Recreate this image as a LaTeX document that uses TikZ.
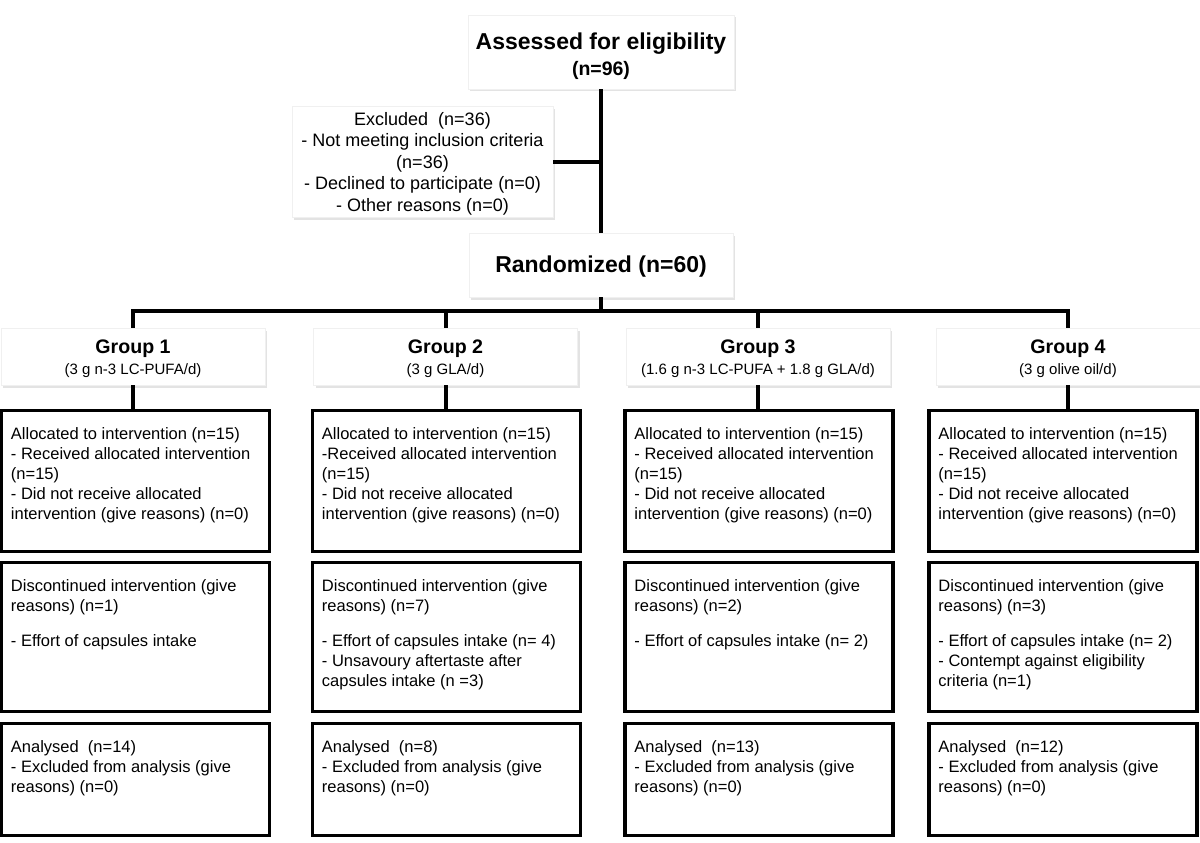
\documentclass[tikz,border=0pt]{standalone}
\usepackage{fontspec}
\setmainfont{Liberation Sans}
\usetikzlibrary{positioning,shadows}

\begin{document}
\begin{tikzpicture}[
    x=1pt, y=-1pt,
    head_box/.style={rectangle, fill=white, draw=black!6, line width=0.6pt, align=center, inner sep=0pt,
        drop shadow={shadow xshift=2pt, shadow yshift=-2.5pt, fill=black!22}},
    group_box/.style={head_box, minimum width=264pt, minimum height=57pt, font=\fontsize{15}{21}\selectfont},
    arm_box/.style={rectangle, draw=black, line width=3.5pt, fill=white, minimum width=268pt, inner sep=0pt},
    alloc_box/.style={arm_box, minimum height=141pt},
    disc_box/.style={arm_box, minimum height=149pt},
    anal_box/.style={arm_box, minimum height=112pt},
    arm_text/.style={anchor=north west, align=left, inner sep=0pt, xshift=11pt, yshift=-18.5pt,
        font=\fontsize{16.5}{20}\selectfont},
    link/.style={line width=4pt}
]
\useasboundingbox (0,0) rectangle (1200,843);

% --- TOP ---
\node[head_box, minimum width=266pt, minimum height=74pt, font=\fontsize{19.5}{26}\bfseries] (assess) at (601,52)
    {\rule{0pt}{26pt}{\fontsize{23}{26}\selectfont Assessed for eligibility}\\(n=96)};
\node[head_box, minimum width=261pt, minimum height=111pt, font=\fontsize{18}{21.5}\selectfont] (excl) at (422.5,161.5)
    {\rule{0pt}{17pt}Excluded~ (n=36)\\- Not meeting inclusion criteria\\(n=36)\\- Declined to participate (n=0)\\- Other reasons (n=0)};
\node[head_box, minimum width=264pt, minimum height=64pt, font=\fontsize{23}{26}\bfseries] (rand) at (601,265)
    {\rule{0pt}{20pt}Randomized (n=60)};

% --- GROUPS ---
\node[group_box] (grp1) at (133,356.5) {\rule{0pt}{19pt}{\fontsize{19.6}{21}\bfseries Group 1}\\(3 g n-3 LC-PUFA/d)};
\node[group_box] (grp2) at (445.5,356.5) {\rule{0pt}{19pt}{\fontsize{19.6}{21}\bfseries Group 2}\\(3 g GLA/d)};
\node[group_box] (grp3) at (758,356.5) {\rule{0pt}{19pt}{\fontsize{19.6}{21}\bfseries Group 3}\\(1.6 g n-3 LC-PUFA + 1.8 g GLA/d)};
\node[group_box] (grp4) at (1068,356.5) {\rule{0pt}{19pt}{\fontsize{19.6}{21}\bfseries Group 4}\\(3 g olive oil/d)};

% --- ALLOCATION ---
\node[alloc_box, label={[arm_text]north west:{Allocated to intervention (n=15)\\- Received allocated intervention\\(n=15)\\- Did not receive allocated\\intervention (give reasons) (n=0)}}] (alloc1) at (135.5,481) {};
\node[alloc_box, label={[arm_text]north west:{Allocated to intervention (n=15)\\-Received allocated intervention\\(n=15)\\- Did not receive allocated\\intervention (give reasons) (n=0)}}] (alloc2) at (446.5,481) {};
\node[alloc_box, label={[arm_text]north west:{Allocated to intervention (n=15)\\- Received allocated intervention\\(n=15)\\- Did not receive allocated\\intervention (give reasons) (n=0)}}] (alloc3) at (759,481) {};
\node[alloc_box, label={[arm_text]north west:{Allocated to intervention (n=15)\\- Received allocated intervention\\(n=15)\\- Did not receive allocated\\intervention (give reasons) (n=0)}}] (alloc4) at (1063,481) {};

% --- FOLLOW-UP ---
\node[disc_box, label={[arm_text]north west:{Discontinued intervention (give\\reasons) (n=1)\\[15pt]- Effort of capsules intake}}] (disc1) at (135.5,637) {};
\node[disc_box, label={[arm_text]north west:{Discontinued intervention (give\\reasons) (n=7)\\[15pt]- Effort of capsules intake (n= 4)\\- Unsavoury aftertaste after\\capsules intake (n =3)}}] (disc2) at (446.5,637) {};
\node[disc_box, label={[arm_text]north west:{Discontinued intervention (give\\reasons) (n=2)\\[15pt]- Effort of capsules intake (n= 2)}}] (disc3) at (759,637) {};
\node[disc_box, label={[arm_text]north west:{Discontinued intervention (give\\reasons) (n=3)\\[15pt]- Effort of capsules intake (n= 2)\\- Contempt against eligibility\\criteria (n=1)}}] (disc4) at (1063,637) {};

% --- ANALYSIS ---
\node[anal_box, label={[arm_text]north west:{Analysed~ (n=14)\\- Excluded from analysis (give\\reasons) (n=0)}}] (anal1) at (135.5,779.5) {};
\node[anal_box, label={[arm_text]north west:{Analysed~ (n=8)\\- Excluded from analysis (give\\reasons) (n=0)}}] (anal2) at (446.5,779.5) {};
\node[anal_box, label={[arm_text]north west:{Analysed~ (n=13)\\- Excluded from analysis (give\\reasons) (n=0)}}] (anal3) at (759,779.5) {};
\node[anal_box, label={[arm_text]north west:{Analysed~ (n=12)\\- Excluded from analysis (give\\reasons) (n=0)}}] (anal4) at (1063,779.5) {};

% --- EDGES ---
\coordinate (bus) at (601,311);
\draw[link] (assess.south) -- (rand.north);
\draw[link] (excl.east) -- (excl.east -| assess.south);
\draw[link] (rand.south) -- (bus);
\draw[link] (grp1.north) |- (bus) -| (grp4.north);
\draw[link] (grp2.north |- bus) -- (grp2.north);
\draw[link] (grp3.north |- bus) -- (grp3.north);

\draw[link] (grp1.south) -- (grp1.south |- alloc1.north);
\draw[link] (grp2.south) -- (grp2.south |- alloc2.north);
\draw[link] (grp3.south) -- (grp3.south |- alloc3.north);
\draw[link] (grp4.south) -- (grp4.south |- alloc4.north);

\end{tikzpicture}
\end{document}
